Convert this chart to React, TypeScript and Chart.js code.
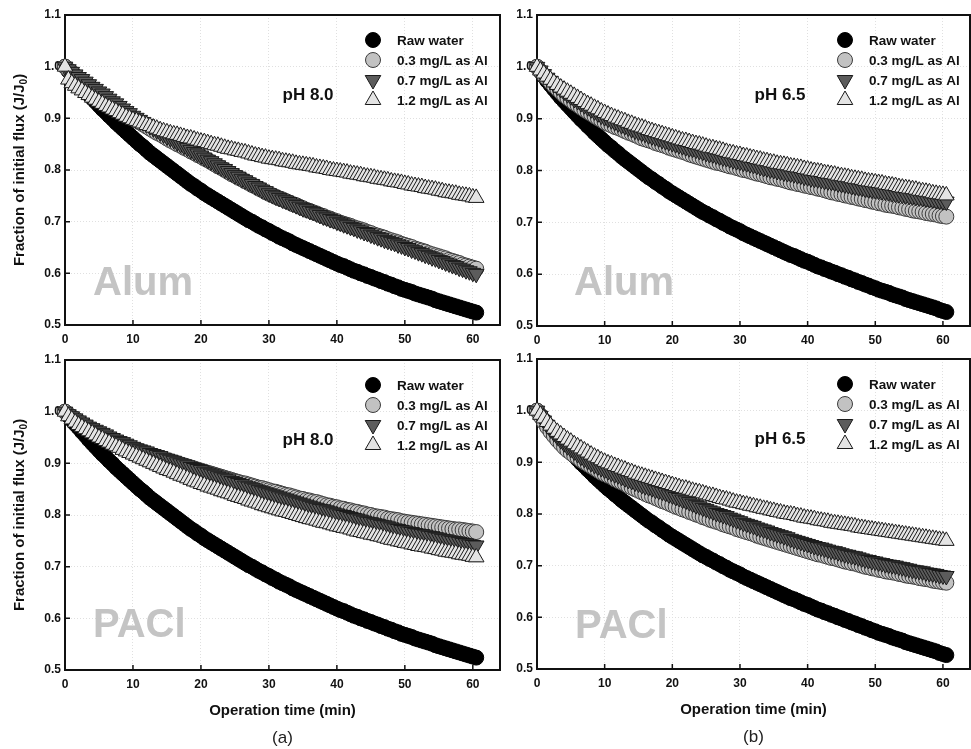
import React, { useEffect, useRef } from 'react';
import { Chart, registerables } from 'chart.js';

Chart.register(...registerables);

// ---------------- data (operation time in min, J/J0) ----------------
const TIME = [
  0, 0.5, 1, 1.5, 2, 2.5, 3, 3.5, 4, 4.5,
  5, 5.5, 6, 6.5, 7, 7.5, 8, 8.5, 9, 9.5,
  10, 10.5, 11, 11.5, 12, 12.5, 13, 13.5, 14, 14.5,
  15, 15.5, 16, 16.5, 17, 17.5, 18, 18.5, 19, 19.5,
  20, 20.5, 21, 21.5, 22, 22.5, 23, 23.5, 24, 24.5,
  25, 25.5, 26, 26.5, 27, 27.5, 28, 28.5, 29, 29.5,
  30, 30.5, 31, 31.5, 32, 32.5, 33, 33.5, 34, 34.5,
  35, 35.5, 36, 36.5, 37, 37.5, 38, 38.5, 39, 39.5,
  40, 40.5, 41, 41.5, 42, 42.5, 43, 43.5, 44, 44.5,
  45, 45.5, 46, 46.5, 47, 47.5, 48, 48.5, 49, 49.5,
  50, 50.5, 51, 51.5, 52, 52.5, 53, 53.5, 54, 54.5,
  55, 55.5, 56, 56.5, 57, 57.5, 58, 58.5, 59, 59.5,
  60, 60.5,
];

const RAW_PH80 = [
  1.000, 0.992, 0.984, 0.976, 0.969, 0.961, 0.954, 0.946, 0.939, 0.932,
  0.925, 0.918, 0.912, 0.905, 0.899, 0.892, 0.886, 0.880, 0.874, 0.868,
  0.862, 0.856, 0.850, 0.845, 0.839, 0.833, 0.828, 0.823, 0.818, 0.813,
  0.808, 0.803, 0.798, 0.793, 0.788, 0.783, 0.778, 0.773, 0.769, 0.764,
  0.760, 0.755, 0.751, 0.747, 0.743, 0.739, 0.735, 0.731, 0.727, 0.723,
  0.719, 0.715, 0.711, 0.707, 0.703, 0.700, 0.696, 0.692, 0.689, 0.685,
  0.682, 0.678, 0.675, 0.671, 0.668, 0.665, 0.662, 0.658, 0.655, 0.652,
  0.649, 0.646, 0.643, 0.640, 0.637, 0.634, 0.631, 0.628, 0.625, 0.622,
  0.619, 0.616, 0.614, 0.611, 0.608, 0.605, 0.603, 0.600, 0.598, 0.595,
  0.593, 0.590, 0.588, 0.585, 0.583, 0.580, 0.578, 0.575, 0.573, 0.570,
  0.568, 0.566, 0.564, 0.561, 0.559, 0.557, 0.555, 0.553, 0.551, 0.548,
  0.546, 0.544, 0.542, 0.540, 0.538, 0.536, 0.534, 0.532, 0.530, 0.528,
  0.526, 0.524,
];

const RAW_PH65 = [
  1.000, 0.991, 0.982, 0.973, 0.965, 0.957, 0.949, 0.941, 0.934, 0.927,
  0.920, 0.913, 0.906, 0.899, 0.893, 0.886, 0.880, 0.873, 0.867, 0.861,
  0.855, 0.849, 0.844, 0.838, 0.833, 0.827, 0.822, 0.817, 0.812, 0.807,
  0.802, 0.797, 0.792, 0.787, 0.783, 0.778, 0.774, 0.769, 0.765, 0.760,
  0.756, 0.752, 0.748, 0.744, 0.740, 0.736, 0.732, 0.728, 0.724, 0.720,
  0.717, 0.713, 0.710, 0.706, 0.703, 0.699, 0.696, 0.692, 0.689, 0.686,
  0.683, 0.679, 0.676, 0.673, 0.670, 0.667, 0.664, 0.661, 0.658, 0.655,
  0.652, 0.649, 0.646, 0.643, 0.640, 0.637, 0.635, 0.632, 0.629, 0.626,
  0.624, 0.621, 0.618, 0.615, 0.613, 0.610, 0.608, 0.605, 0.603, 0.600,
  0.598, 0.595, 0.593, 0.590, 0.588, 0.585, 0.583, 0.580, 0.578, 0.575,
  0.573, 0.570, 0.568, 0.566, 0.564, 0.561, 0.559, 0.557, 0.555, 0.552,
  0.550, 0.548, 0.546, 0.544, 0.542, 0.540, 0.538, 0.536, 0.534, 0.531,
  0.529, 0.527,
];

const ALUM_PH80_03 = [
  1.000, 0.994, 0.989, 0.983, 0.978, 0.973, 0.968, 0.963, 0.958, 0.953,
  0.948, 0.943, 0.938, 0.933, 0.929, 0.924, 0.919, 0.914, 0.910, 0.905,
  0.900, 0.896, 0.892, 0.888, 0.884, 0.880, 0.876, 0.872, 0.869, 0.865,
  0.861, 0.857, 0.854, 0.850, 0.847, 0.843, 0.840, 0.836, 0.833, 0.829,
  0.826, 0.822, 0.819, 0.815, 0.811, 0.807, 0.804, 0.800, 0.796, 0.792,
  0.789, 0.785, 0.782, 0.778, 0.775, 0.771, 0.768, 0.764, 0.761, 0.757,
  0.754, 0.751, 0.748, 0.745, 0.743, 0.740, 0.737, 0.734, 0.732, 0.729,
  0.726, 0.723, 0.721, 0.718, 0.716, 0.713, 0.711, 0.708, 0.706, 0.703,
  0.701, 0.698, 0.696, 0.694, 0.692, 0.689, 0.687, 0.685, 0.683, 0.680,
  0.678, 0.675, 0.673, 0.671, 0.669, 0.666, 0.664, 0.662, 0.660, 0.657,
  0.655, 0.653, 0.651, 0.648, 0.646, 0.644, 0.642, 0.639, 0.637, 0.635,
  0.633, 0.631, 0.629, 0.626, 0.624, 0.622, 0.620, 0.617, 0.615, 0.613,
  0.611, 0.609,
];

const ALUM_PH80_07 = [
  1.000, 0.995, 0.990, 0.985, 0.980, 0.976, 0.971, 0.966, 0.961, 0.957,
  0.952, 0.948, 0.943, 0.938, 0.933, 0.929, 0.924, 0.919, 0.914, 0.910,
  0.905, 0.901, 0.897, 0.893, 0.889, 0.885, 0.881, 0.877, 0.873, 0.869,
  0.865, 0.862, 0.858, 0.854, 0.850, 0.847, 0.843, 0.839, 0.835, 0.832,
  0.828, 0.824, 0.820, 0.817, 0.813, 0.809, 0.805, 0.802, 0.798, 0.794,
  0.790, 0.787, 0.783, 0.780, 0.776, 0.773, 0.769, 0.766, 0.762, 0.759,
  0.755, 0.752, 0.749, 0.746, 0.743, 0.741, 0.738, 0.735, 0.732, 0.729,
  0.726, 0.724, 0.721, 0.719, 0.716, 0.713, 0.710, 0.708, 0.705, 0.703,
  0.700, 0.698, 0.695, 0.693, 0.690, 0.688, 0.685, 0.683, 0.680, 0.678,
  0.675, 0.673, 0.670, 0.668, 0.665, 0.663, 0.661, 0.659, 0.656, 0.654,
  0.651, 0.649, 0.646, 0.644, 0.641, 0.639, 0.636, 0.634, 0.631, 0.629,
  0.626, 0.624, 0.621, 0.619, 0.616, 0.614, 0.611, 0.609, 0.606, 0.604,
  0.601, 0.599,
];

const ALUM_PH80_12 = [
  1.000, 0.975, 0.968, 0.963, 0.958, 0.954, 0.949, 0.945, 0.940, 0.936,
  0.932, 0.928, 0.924, 0.921, 0.917, 0.914, 0.910, 0.907, 0.903, 0.900,
  0.897, 0.895, 0.892, 0.890, 0.887, 0.885, 0.882, 0.880, 0.877, 0.875,
  0.873, 0.871, 0.869, 0.868, 0.866, 0.864, 0.862, 0.861, 0.859, 0.857,
  0.855, 0.854, 0.852, 0.850, 0.848, 0.847, 0.845, 0.843, 0.841, 0.840,
  0.838, 0.837, 0.835, 0.834, 0.832, 0.830, 0.828, 0.827, 0.825, 0.824,
  0.822, 0.821, 0.820, 0.819, 0.817, 0.816, 0.815, 0.814, 0.812, 0.811,
  0.810, 0.809, 0.808, 0.807, 0.805, 0.804, 0.803, 0.802, 0.800, 0.799,
  0.798, 0.797, 0.796, 0.795, 0.793, 0.792, 0.791, 0.790, 0.788, 0.787,
  0.786, 0.785, 0.783, 0.782, 0.781, 0.780, 0.778, 0.777, 0.776, 0.775,
  0.773, 0.772, 0.770, 0.769, 0.768, 0.767, 0.765, 0.764, 0.763, 0.762,
  0.760, 0.759, 0.757, 0.756, 0.755, 0.754, 0.752, 0.751, 0.750, 0.749,
  0.747, 0.746,
];

const ALUM_PH65_03 = [
  1.000, 0.992, 0.984, 0.977, 0.970, 0.963, 0.957, 0.951, 0.945, 0.940,
  0.935, 0.930, 0.926, 0.921, 0.917, 0.913, 0.909, 0.905, 0.901, 0.897,
  0.893, 0.890, 0.887, 0.884, 0.882, 0.879, 0.876, 0.873, 0.871, 0.868,
  0.865, 0.862, 0.860, 0.858, 0.856, 0.853, 0.851, 0.849, 0.847, 0.844,
  0.842, 0.840, 0.838, 0.836, 0.834, 0.831, 0.829, 0.827, 0.825, 0.823,
  0.821, 0.819, 0.817, 0.815, 0.814, 0.812, 0.810, 0.808, 0.807, 0.805,
  0.803, 0.801, 0.800, 0.798, 0.796, 0.794, 0.793, 0.791, 0.789, 0.787,
  0.786, 0.784, 0.783, 0.781, 0.779, 0.777, 0.776, 0.774, 0.773, 0.771,
  0.770, 0.768, 0.767, 0.765, 0.764, 0.762, 0.760, 0.758, 0.757, 0.755,
  0.754, 0.752, 0.751, 0.749, 0.748, 0.746, 0.745, 0.743, 0.742, 0.740,
  0.739, 0.737, 0.736, 0.734, 0.733, 0.732, 0.731, 0.729, 0.728, 0.726,
  0.725, 0.723, 0.722, 0.721, 0.720, 0.718, 0.717, 0.716, 0.715, 0.713,
  0.712, 0.711,
];

const ALUM_PH65_07 = [
  1.000, 0.993, 0.986, 0.979, 0.973, 0.967, 0.962, 0.957, 0.952, 0.947,
  0.943, 0.938, 0.934, 0.930, 0.926, 0.922, 0.918, 0.914, 0.910, 0.906,
  0.903, 0.900, 0.897, 0.894, 0.891, 0.888, 0.886, 0.883, 0.880, 0.877,
  0.875, 0.873, 0.871, 0.868, 0.866, 0.864, 0.862, 0.859, 0.857, 0.855,
  0.853, 0.851, 0.849, 0.847, 0.845, 0.843, 0.842, 0.840, 0.838, 0.836,
  0.834, 0.832, 0.831, 0.829, 0.827, 0.825, 0.824, 0.822, 0.820, 0.818,
  0.817, 0.815, 0.814, 0.812, 0.811, 0.809, 0.807, 0.805, 0.804, 0.802,
  0.801, 0.799, 0.798, 0.796, 0.795, 0.794, 0.793, 0.791, 0.790, 0.788,
  0.787, 0.785, 0.784, 0.783, 0.782, 0.780, 0.779, 0.778, 0.777, 0.775,
  0.774, 0.773, 0.772, 0.770, 0.769, 0.768, 0.767, 0.765, 0.764, 0.763,
  0.762, 0.761, 0.760, 0.759, 0.758, 0.756, 0.755, 0.754, 0.753, 0.752,
  0.751, 0.750, 0.749, 0.748, 0.747, 0.746, 0.745, 0.744, 0.743, 0.742,
  0.741, 0.740,
];

const ALUM_PH65_12 = [
  1.000, 0.993, 0.987, 0.981, 0.975, 0.970, 0.965, 0.960, 0.956, 0.952,
  0.948, 0.944, 0.940, 0.936, 0.932, 0.928, 0.925, 0.921, 0.918, 0.914,
  0.911, 0.908, 0.905, 0.902, 0.900, 0.897, 0.895, 0.892, 0.890, 0.887,
  0.885, 0.883, 0.881, 0.878, 0.876, 0.874, 0.872, 0.870, 0.868, 0.866,
  0.864, 0.862, 0.860, 0.858, 0.857, 0.855, 0.853, 0.851, 0.850, 0.848,
  0.846, 0.844, 0.843, 0.841, 0.840, 0.838, 0.836, 0.834, 0.833, 0.831,
  0.830, 0.828, 0.827, 0.825, 0.824, 0.822, 0.821, 0.819, 0.818, 0.816,
  0.815, 0.813, 0.812, 0.811, 0.810, 0.808, 0.807, 0.806, 0.805, 0.803,
  0.802, 0.800, 0.799, 0.798, 0.797, 0.795, 0.794, 0.793, 0.792, 0.790,
  0.789, 0.788, 0.787, 0.785, 0.784, 0.783, 0.782, 0.780, 0.779, 0.778,
  0.777, 0.776, 0.775, 0.773, 0.772, 0.771, 0.770, 0.768, 0.767, 0.766,
  0.765, 0.764, 0.763, 0.761, 0.760, 0.759, 0.758, 0.756, 0.755, 0.754,
  0.753, 0.752,
];

const PACL_PH80_03 = [
  1.000, 0.995, 0.990, 0.986, 0.981, 0.977, 0.973, 0.969, 0.965, 0.962,
  0.958, 0.955, 0.952, 0.949, 0.946, 0.943, 0.940, 0.937, 0.934, 0.931,
  0.928, 0.926, 0.924, 0.921, 0.919, 0.917, 0.915, 0.912, 0.910, 0.908,
  0.906, 0.904, 0.902, 0.900, 0.898, 0.896, 0.894, 0.892, 0.890, 0.888,
  0.886, 0.884, 0.882, 0.880, 0.878, 0.876, 0.874, 0.872, 0.870, 0.868,
  0.866, 0.864, 0.862, 0.861, 0.859, 0.857, 0.855, 0.853, 0.852, 0.850,
  0.848, 0.846, 0.845, 0.843, 0.841, 0.839, 0.838, 0.836, 0.834, 0.832,
  0.831, 0.829, 0.828, 0.826, 0.825, 0.823, 0.821, 0.819, 0.818, 0.816,
  0.815, 0.813, 0.812, 0.810, 0.809, 0.807, 0.806, 0.804, 0.803, 0.801,
  0.800, 0.798, 0.797, 0.796, 0.795, 0.793, 0.792, 0.791, 0.790, 0.788,
  0.787, 0.786, 0.785, 0.784, 0.783, 0.782, 0.781, 0.780, 0.779, 0.778,
  0.777, 0.776, 0.775, 0.774, 0.773, 0.772, 0.772, 0.771, 0.770, 0.769,
  0.768, 0.767,
];

const PACL_PH80_07 = [
  1.000, 0.995, 0.991, 0.987, 0.983, 0.979, 0.975, 0.971, 0.968, 0.965,
  0.962, 0.959, 0.956, 0.952, 0.949, 0.946, 0.943, 0.941, 0.938, 0.935,
  0.932, 0.929, 0.927, 0.925, 0.923, 0.920, 0.918, 0.916, 0.914, 0.911,
  0.909, 0.907, 0.905, 0.902, 0.900, 0.898, 0.896, 0.893, 0.891, 0.889,
  0.887, 0.884, 0.882, 0.880, 0.878, 0.875, 0.873, 0.871, 0.869, 0.866,
  0.864, 0.862, 0.860, 0.857, 0.855, 0.853, 0.851, 0.848, 0.846, 0.844,
  0.842, 0.840, 0.838, 0.836, 0.834, 0.832, 0.830, 0.828, 0.826, 0.824,
  0.822, 0.820, 0.818, 0.816, 0.814, 0.812, 0.811, 0.809, 0.807, 0.805,
  0.803, 0.801, 0.800, 0.798, 0.796, 0.794, 0.793, 0.791, 0.789, 0.787,
  0.786, 0.784, 0.783, 0.781, 0.780, 0.778, 0.776, 0.774, 0.773, 0.771,
  0.770, 0.768, 0.767, 0.765, 0.764, 0.763, 0.762, 0.760, 0.759, 0.757,
  0.756, 0.754, 0.753, 0.751, 0.750, 0.749, 0.748, 0.746, 0.745, 0.743,
  0.742, 0.741,
];

const PACL_PH80_12 = [
  1.000, 0.991, 0.985, 0.979, 0.974, 0.970, 0.966, 0.962, 0.958, 0.954,
  0.950, 0.947, 0.943, 0.940, 0.936, 0.933, 0.930, 0.926, 0.923, 0.920,
  0.917, 0.914, 0.911, 0.908, 0.905, 0.902, 0.899, 0.896, 0.893, 0.890,
  0.887, 0.885, 0.882, 0.879, 0.876, 0.874, 0.871, 0.868, 0.865, 0.863,
  0.860, 0.858, 0.855, 0.853, 0.851, 0.849, 0.846, 0.844, 0.842, 0.840,
  0.837, 0.835, 0.833, 0.831, 0.828, 0.826, 0.824, 0.822, 0.819, 0.817,
  0.815, 0.813, 0.811, 0.809, 0.807, 0.806, 0.804, 0.802, 0.800, 0.798,
  0.796, 0.794, 0.792, 0.791, 0.789, 0.787, 0.785, 0.784, 0.782, 0.780,
  0.778, 0.777, 0.775, 0.774, 0.772, 0.770, 0.768, 0.767, 0.765, 0.764,
  0.762, 0.761, 0.759, 0.758, 0.756, 0.754, 0.752, 0.751, 0.749, 0.748,
  0.746, 0.745, 0.743, 0.742, 0.740, 0.739, 0.738, 0.737, 0.735, 0.734,
  0.732, 0.731, 0.729, 0.728, 0.727, 0.726, 0.724, 0.723, 0.722, 0.721,
  0.719, 0.718,
];

const PACL_PH65_03 = [
  1.000, 0.989, 0.978, 0.968, 0.959, 0.951, 0.943, 0.936, 0.929, 0.923,
  0.918, 0.913, 0.909, 0.904, 0.900, 0.896, 0.892, 0.888, 0.884, 0.880,
  0.877, 0.874, 0.871, 0.867, 0.864, 0.861, 0.858, 0.854, 0.851, 0.848,
  0.845, 0.842, 0.839, 0.836, 0.834, 0.831, 0.828, 0.825, 0.823, 0.820,
  0.817, 0.814, 0.812, 0.809, 0.807, 0.804, 0.802, 0.799, 0.797, 0.794,
  0.792, 0.789, 0.787, 0.785, 0.783, 0.780, 0.778, 0.776, 0.774, 0.771,
  0.769, 0.767, 0.765, 0.763, 0.761, 0.758, 0.756, 0.754, 0.752, 0.750,
  0.748, 0.746, 0.744, 0.742, 0.740, 0.738, 0.736, 0.734, 0.732, 0.730,
  0.728, 0.726, 0.724, 0.722, 0.721, 0.719, 0.717, 0.715, 0.714, 0.712,
  0.710, 0.708, 0.707, 0.705, 0.704, 0.702, 0.700, 0.698, 0.697, 0.695,
  0.694, 0.692, 0.691, 0.689, 0.688, 0.687, 0.686, 0.684, 0.683, 0.681,
  0.680, 0.679, 0.678, 0.676, 0.675, 0.674, 0.673, 0.671, 0.670, 0.669,
  0.668, 0.667,
];

const PACL_PH65_07 = [
  1.000, 0.990, 0.981, 0.972, 0.964, 0.957, 0.950, 0.943, 0.937, 0.931,
  0.926, 0.921, 0.916, 0.911, 0.907, 0.903, 0.899, 0.895, 0.892, 0.889,
  0.886, 0.883, 0.880, 0.877, 0.875, 0.872, 0.869, 0.866, 0.864, 0.861,
  0.859, 0.856, 0.854, 0.852, 0.850, 0.847, 0.845, 0.843, 0.841, 0.838,
  0.836, 0.833, 0.831, 0.828, 0.826, 0.823, 0.820, 0.817, 0.815, 0.812,
  0.810, 0.807, 0.805, 0.802, 0.800, 0.798, 0.796, 0.793, 0.791, 0.788,
  0.786, 0.783, 0.781, 0.779, 0.777, 0.774, 0.772, 0.770, 0.768, 0.765,
  0.763, 0.761, 0.759, 0.757, 0.755, 0.752, 0.750, 0.748, 0.746, 0.744,
  0.742, 0.740, 0.738, 0.736, 0.735, 0.733, 0.731, 0.729, 0.728, 0.726,
  0.724, 0.722, 0.721, 0.719, 0.718, 0.716, 0.714, 0.712, 0.711, 0.709,
  0.708, 0.706, 0.705, 0.703, 0.702, 0.701, 0.700, 0.698, 0.697, 0.695,
  0.694, 0.692, 0.691, 0.690, 0.689, 0.687, 0.686, 0.685, 0.684, 0.682,
  0.681, 0.680,
];

const PACL_PH65_12 = [
  1.000, 0.992, 0.985, 0.978, 0.971, 0.965, 0.959, 0.954, 0.949, 0.944,
  0.940, 0.935, 0.931, 0.927, 0.923, 0.919, 0.915, 0.911, 0.908, 0.904,
  0.901, 0.898, 0.896, 0.893, 0.891, 0.888, 0.886, 0.883, 0.881, 0.878,
  0.876, 0.874, 0.872, 0.870, 0.868, 0.866, 0.864, 0.862, 0.860, 0.858,
  0.856, 0.854, 0.852, 0.850, 0.849, 0.847, 0.845, 0.843, 0.842, 0.840,
  0.838, 0.836, 0.835, 0.833, 0.831, 0.829, 0.828, 0.826, 0.824, 0.822,
  0.821, 0.819, 0.818, 0.816, 0.815, 0.813, 0.812, 0.810, 0.809, 0.807,
  0.806, 0.804, 0.803, 0.801, 0.800, 0.799, 0.798, 0.796, 0.795, 0.793,
  0.792, 0.791, 0.790, 0.788, 0.787, 0.786, 0.785, 0.783, 0.782, 0.781,
  0.780, 0.779, 0.778, 0.777, 0.776, 0.774, 0.773, 0.772, 0.771, 0.770,
  0.769, 0.768, 0.767, 0.766, 0.765, 0.764, 0.763, 0.762, 0.761, 0.760,
  0.759, 0.758, 0.757, 0.756, 0.755, 0.754, 0.753, 0.752, 0.751, 0.750,
  0.749, 0.748,
];

const X_TICKS = [0, 10, 20, 30, 40, 50, 60];
const Y_TICKS = [0.5, 0.6, 0.7, 0.8, 0.9, 1.0, 1.1];
const SERIES_LABELS = ['Raw water', '0.3 mg/L as Al', '0.7 mg/L as Al', '1.2 mg/L as Al'];
const Y_TITLE_MAIN = 'Fraction of initial flux (J/J';
const Y_TITLE_SUB = '0';
const Y_TITLE_END = ')';
const X_TITLE = 'Operation time (min)';

// ---------------- style / layout ----------------
const FONT = '"Liberation Sans", Arial, Helvetica, sans-serif';
const CW = 980;
const CH = 749;
const Y_AXIS_W = 50;
const X_AXIS_H = 30;

const MARKERS = [
  { shape: 'circle', radius: 7.5, rotation: 0, fill: '#000000', stroke: '#000000' },
  { shape: 'circle', radius: 7.5, rotation: 0, fill: '#c2c2c2', stroke: '#3c3c3c' },
  { shape: 'triangle', radius: 9, rotation: 180, fill: '#5c5c5c', stroke: '#1a1a1a' },
  { shape: 'triangle', radius: 9, rotation: 0, fill: '#e4e4e4', stroke: '#1a1a1a' },
];

const PANELS = [
  {
    area: { left: 65, top: 15, right: 500, bottom: 325 },
    series: [RAW_PH80, ALUM_PH80_03, ALUM_PH80_07, ALUM_PH80_12],
    ph: 'pH 8.0', coag: 'Alum', coagAt: [28, 280], yTitle: true, xTitle: false, tag: '',
  },
  {
    area: { left: 537, top: 15, right: 973, bottom: 326 },
    series: [RAW_PH65, ALUM_PH65_03, ALUM_PH65_07, ALUM_PH65_12],
    ph: 'pH 6.5', coag: 'Alum', coagAt: [37, 280], yTitle: false, xTitle: false, tag: '',
  },
  {
    area: { left: 65, top: 360, right: 500, bottom: 670 },
    series: [RAW_PH80, PACL_PH80_03, PACL_PH80_07, PACL_PH80_12],
    ph: 'pH 8.0', coag: 'PACl', coagAt: [28, 277], yTitle: true, xTitle: true, tag: '(a)',
  },
  {
    area: { left: 537, top: 359, right: 973, bottom: 669 },
    series: [RAW_PH65, PACL_PH65_03, PACL_PH65_07, PACL_PH65_12],
    ph: 'pH 6.5', coag: 'PACl', coagAt: [38, 279], yTitle: false, xTitle: true, tag: '(b)',
  },
];

function drawMarker(ctx, m, x, y) {
  ctx.beginPath();
  if (m.shape === 'circle') {
    ctx.arc(x, y, m.radius, 0, Math.PI * 2);
  } else {
    let rad = (m.rotation * Math.PI) / 180;
    for (let k = 0; k < 3; k++) {
      const px = x + Math.sin(rad) * m.radius;
      const py = y - Math.cos(rad) * m.radius;
      if (k === 0) ctx.moveTo(px, py);
      else ctx.lineTo(px, py);
      rad += (2 * Math.PI) / 3;
    }
    ctx.closePath();
  }
  ctx.fillStyle = m.fill;
  ctx.fill();
  ctx.lineWidth = 1;
  ctx.strokeStyle = m.stroke;
  ctx.stroke();
}

function makeDecor(p) {
  return {
    id: 'panelDecor',
    beforeDatasetsDraw(chart) {
      const { ctx, chartArea: a, scales } = chart;
      ctx.save();
      ctx.fillStyle = '#c4c4c4';
      ctx.font = `bold 40px ${FONT}`;
      ctx.textAlign = 'left';
      ctx.textBaseline = 'alphabetic';
      ctx.fillText(p.coag, a.left + p.coagAt[0], a.top + p.coagAt[1]);
      ctx.strokeStyle = '#111111';
      ctx.lineWidth = 2;
      ctx.strokeRect(a.left, a.top, a.right - a.left, a.bottom - a.top);
      ctx.lineWidth = 1.5;
      ctx.beginPath();
      X_TICKS.forEach((v) => {
        const px = scales.x.getPixelForValue(v);
        ctx.moveTo(px, a.bottom);
        ctx.lineTo(px, a.bottom - 5);
      });
      Y_TICKS.forEach((v) => {
        const py = scales.y.getPixelForValue(v);
        ctx.moveTo(a.left, py);
        ctx.lineTo(a.left + 5, py);
      });
      ctx.stroke();
      ctx.restore();
    },
    afterDatasetsDraw(chart) {
      const { ctx, chartArea: a } = chart;
      ctx.save();
      ctx.fillStyle = '#111111';
      ctx.font = `bold 17px ${FONT}`;
      ctx.textAlign = 'center';
      ctx.textBaseline = 'middle';
      ctx.fillText(p.ph, a.left + 243, a.top + 80);
      ctx.font = `bold 13.5px ${FONT}`;
      ctx.textAlign = 'left';
      SERIES_LABELS.forEach((lab, i) => {
        const y = a.top + 25 + 20 * i;
        drawMarker(ctx, MARKERS[i], a.left + 308, y);
        ctx.fillStyle = '#111111';
        ctx.fillText(lab, a.left + 332, y + 1);
      });
      if (p.yTitle) {
        ctx.save();
        ctx.translate(20, a.top + 155);
        ctx.rotate(-Math.PI / 2);
        ctx.textBaseline = 'middle';
        ctx.textAlign = 'left';
        ctx.font = `bold 15px ${FONT}`;
        const w1 = ctx.measureText(Y_TITLE_MAIN).width;
        const w3 = ctx.measureText(Y_TITLE_END).width;
        ctx.font = `bold 10px ${FONT}`;
        const w2 = ctx.measureText(Y_TITLE_SUB).width;
        let x = -(w1 + w2 + w3) / 2;
        ctx.font = `bold 15px ${FONT}`;
        ctx.fillText(Y_TITLE_MAIN, x, 0);
        x += w1;
        ctx.font = `bold 10px ${FONT}`;
        ctx.fillText(Y_TITLE_SUB, x, 4);
        x += w2;
        ctx.font = `bold 15px ${FONT}`;
        ctx.fillText(Y_TITLE_END, x, 0);
        ctx.restore();
      }
      const cx = (a.left + a.right) / 2;
      if (p.xTitle) {
        ctx.font = `bold 15px ${FONT}`;
        ctx.textAlign = 'center';
        ctx.textBaseline = 'middle';
        ctx.fillText(X_TITLE, cx, a.bottom + 41);
      }
      if (p.tag) {
        ctx.font = `17px ${FONT}`;
        ctx.fillStyle = '#222222';
        ctx.textAlign = 'center';
        ctx.textBaseline = 'middle';
        ctx.fillText(p.tag, cx, a.bottom + 68);
      }
      ctx.restore();
    },
  };
}

function Panel({ cfg }) {
  const ref = useRef(null);
  useEffect(() => {
    const a = cfg.area;
    const datasets = cfg.series.map((arr, i) => {
      const m = MARKERS[i];
      return {
        label: SERIES_LABELS[i],
        data: TIME.map((t, k) => ({ x: t, y: arr[k] })),
        showLine: false,
        pointStyle: m.shape,
        pointRadius: m.radius,
        pointRotation: m.rotation,
        pointBackgroundColor: m.fill,
        pointBorderColor: m.stroke,
        pointBorderWidth: 1,
        clip: false,
        order: 4 - i,
      };
    });
    const tickFont = { family: FONT, size: 12, weight: 'bold' };
    const chart = new Chart(ref.current, {
      type: 'scatter',
      data: { datasets },
      options: {
        responsive: false,
        animation: false,
        devicePixelRatio: 1,
        events: [],
        layout: {
          padding: {
            left: a.left - Y_AXIS_W,
            top: a.top,
            right: CW - a.right,
            bottom: CH - a.bottom - X_AXIS_H,
          },
        },
        plugins: { legend: { display: false }, tooltip: { enabled: false } },
        scales: {
          x: {
            type: 'linear',
            min: 0,
            max: 64,
            afterFit: (s) => { s.height = X_AXIS_H; },
            afterBuildTicks: (s) => { s.ticks = X_TICKS.map((v) => ({ value: v })); },
            grid: { color: '#e0e0e0', lineWidth: 1, drawTicks: false },
            border: { display: false, dash: [1, 2] },
            ticks: { font: tickFont, color: '#111111', padding: 7, maxRotation: 0, autoSkip: false, callback: (v) => String(v) },
          },
          y: {
            type: 'linear',
            min: 0.5,
            max: 1.1,
            afterFit: (s) => { s.width = Y_AXIS_W; },
            afterBuildTicks: (s) => { s.ticks = Y_TICKS.map((v) => ({ value: v })); },
            grid: { color: '#e0e0e0', lineWidth: 1, drawTicks: false },
            border: { display: false, dash: [1, 2] },
            ticks: { font: tickFont, color: '#111111', padding: 4, autoSkip: false, callback: (v) => Number(v).toFixed(1) },
          },
        },
      },
      plugins: [makeDecor(cfg)],
    });
    return () => chart.destroy();
  }, [cfg]);
  return (
    <canvas
      ref={ref}
      width={CW}
      height={CH}
      style={{ position: 'absolute', left: 0, top: 0, width: CW, height: CH }}
    />
  );
}

export default function App() {
  return (
    <div
      style={{
        position: 'absolute', left: 0, top: 0, width: 971, height: 749,
        overflow: 'hidden', background: '#ffffff',
      }}
    >
      {PANELS.map((p, i) => (
        <Panel key={i} cfg={p} />
      ))}
    </div>
  );
}
